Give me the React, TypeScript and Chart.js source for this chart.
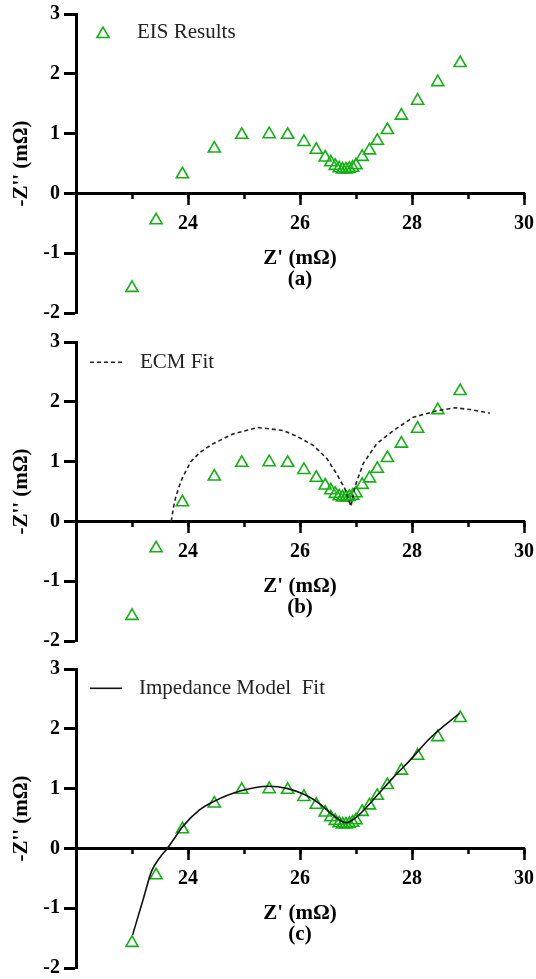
import React, { useEffect, useRef } from 'react';
import { Chart, registerables } from 'chart.js';

Chart.register(...registerables);

// ---------- data ----------
const eisZre = [23.00, 23.43, 23.90, 24.47, 24.96, 25.45, 25.78, 26.07, 26.29, 26.45, 26.55, 26.63, 26.70, 26.76, 26.82, 26.88, 26.94, 27.00, 27.11, 27.24, 27.38, 27.56, 27.81, 28.10, 28.46, 28.86];
const eisZim = [-1.58, -0.45, 0.32, 0.75, 0.98, 0.99, 0.98, 0.86, 0.73, 0.60, 0.52, 0.46, 0.42, 0.40, 0.40, 0.41, 0.43, 0.47, 0.61, 0.72, 0.88, 1.06, 1.30, 1.55, 1.86, 2.18];

const ecmZre = [23.70, 23.74, 23.78, 23.84, 23.90, 24.05, 24.22, 24.45, 24.80, 25.25, 25.70, 25.95, 26.24, 26.48, 26.65, 26.80, 26.91, 26.98, 27.13, 27.37, 27.67, 28.02, 28.44, 28.77, 29.04, 29.39];
const ecmZim = [0.00, 0.23, 0.40, 0.58, 0.73, 1.00, 1.16, 1.30, 1.46, 1.57, 1.52, 1.42, 1.27, 1.05, 0.80, 0.55, 0.25, 0.58, 0.97, 1.30, 1.52, 1.74, 1.85, 1.90, 1.87, 1.81];

const fitZre = [23.01, 23.20, 23.35, 23.50, 23.63, 23.78, 23.90, 24.20, 24.47, 24.93, 25.44, 25.78, 26.08, 26.33, 26.57, 26.75, 26.82, 26.99, 27.18, 27.42, 27.66, 27.97, 28.33, 28.85];
const fitZim = [-1.45, -0.85, -0.38, -0.15, 0.00, 0.20, 0.36, 0.64, 0.79, 0.96, 1.04, 1.00, 0.90, 0.76, 0.57, 0.45, 0.43, 0.51, 0.68, 0.93, 1.18, 1.48, 1.85, 2.26];

const xTickLabels = [24, 26, 28, 30];
const yTickLabels = [-2, -1, 0, 1, 2, 3];
const panelLabels = ['(a)', '(b)', '(c)'];
const legendTexts = ['EIS Results', 'ECM Fit', 'Impedance Model  Fit'];
const xTitle = "Z' (mΩ)";
const yTitle = "-Z'' (mΩ)";

// ---------- styles ----------
const SERIF = '"Liberation Serif", "Times New Roman", serif';
const GREEN = '#14B014';
const W = 536;
const H = 324;
const TOPS = [0, 328, 655];

const toPts = (xs: number[], ys: number[]) => xs.map((x, i) => ({ x, y: ys[i] }));

const legendPlugin = {
  id: 'panelLegend',
  afterDatasetsDraw(chart: any, _args: any, opts: any) {
    if (!opts || !opts.text) return;
    const { ctx, chartArea } = chart;
    const L = chartArea.left;
    const cy = chartArea.top + opts.dy;
    ctx.save();
    if (opts.kind === 'triangle') {
      const r = 7;
      const cx = L + opts.markerX;
      const ty = cy + r / 4;
      ctx.beginPath();
      let rad = 0;
      ctx.moveTo(cx + Math.sin(rad) * r, ty - Math.cos(rad) * r);
      rad += (2 * Math.PI) / 3;
      ctx.lineTo(cx + Math.sin(rad) * r, ty - Math.cos(rad) * r);
      rad += (2 * Math.PI) / 3;
      ctx.lineTo(cx + Math.sin(rad) * r, ty - Math.cos(rad) * r);
      ctx.closePath();
      ctx.lineWidth = 1.6;
      ctx.strokeStyle = GREEN;
      ctx.stroke();
    } else {
      ctx.beginPath();
      ctx.setLineDash(opts.dash || []);
      ctx.lineWidth = 1.6;
      ctx.strokeStyle = opts.kind === 'dash' ? '#222' : '#111';
      ctx.moveTo(L + opts.x1, cy);
      ctx.lineTo(L + opts.x2, cy);
      ctx.stroke();
      ctx.setLineDash([]);
    }
    ctx.font = `21px ${SERIF}`;
    ctx.fillStyle = '#222';
    ctx.textAlign = 'left';
    ctx.textBaseline = 'middle';
    ctx.fillText(opts.text, L + opts.textX, cy);
    ctx.restore();
  },
};

function buildConfig(idx: number): any {
  const datasets: any[] = [];
  if (idx === 1) {
    datasets.push({
      label: legendTexts[1],
      data: toPts(ecmZre, ecmZim),
      showLine: true,
      borderColor: '#222',
      borderWidth: 1.6,
      borderDash: [4, 3],
      pointRadius: 0,
      tension: 0,
      fill: false,
    });
  }
  if (idx === 2) {
    datasets.push({
      label: legendTexts[2],
      data: toPts(fitZre, fitZim),
      showLine: true,
      borderColor: '#111',
      borderWidth: 1.6,
      pointRadius: 0,
      cubicInterpolationMode: 'monotone',
      fill: false,
    });
  }
  datasets.push({
    label: legendTexts[0],
    data: toPts(eisZre, eisZim),
    showLine: false,
    pointStyle: 'triangle',
    pointRadius: 7,
    pointHoverRadius: 7,
    pointBorderWidth: 1.6,
    pointBorderColor: GREEN,
    pointBackgroundColor: 'rgba(0,0,0,0)',
    borderColor: GREEN,
    backgroundColor: 'rgba(0,0,0,0)',
  });

  const legendOpts =
    idx === 0
      ? { kind: 'triangle', text: legendTexts[0], dy: 18.3, markerX: 27, textX: 61 }
      : idx === 1
      ? { kind: 'dash', dash: [4, 3], text: legendTexts[1], dy: 20.3, x1: 14, x2: 46, textX: 64 }
      : { kind: 'solid', text: legendTexts[2], dy: 19.3, x1: 14, x2: 46, textX: 63 };

  const tickFont = { family: SERIF, size: 20, weight: 'bold' as const };
  const titleFont = { family: SERIF, size: 21, weight: 'bold' as const };

  return {
    type: 'scatter',
    data: { datasets },
    options: {
      responsive: false,
      animation: false,
      devicePixelRatio: 1,
      events: [],
      layout: { padding: { top: 14, right: 12, bottom: 11, left: 0 } },
      plugins: {
        legend: { display: false },
        tooltip: { enabled: false },
        panelLegend: legendOpts,
      },
      scales: {
        x: {
          type: 'linear',
          position: { y: 0 },
          min: 22,
          max: 30,
          ticks: {
            stepSize: 2,
            autoSkip: false,
            maxRotation: 0,
            padding: 8,
            color: '#000',
            font: tickFont,
            callback: (v: any) => (xTickLabels.includes(Number(v)) ? String(v) : ''),
          },
          grid: {
            display: true,
            drawOnChartArea: false,
            drawTicks: true,
            tickLength: 10,
            tickWidth: 2.5,
            tickColor: '#000',
          },
          border: { display: true, color: '#000', width: 3 },
          title: {
            display: true,
            text: [xTitle, panelLabels[idx]],
            color: '#000',
            font: { ...titleFont, lineHeight: 1 },
            padding: { top: 0, bottom: -86 },
          },
          afterFit: (s: any) => {
            s.height = 11;
            s.paddingLeft = 0;
            s.paddingRight = 0;
          },
        },
        xMinor: {
          type: 'linear',
          axis: 'x',
          position: { y: 0 },
          min: 22,
          max: 30,
          ticks: { stepSize: 1, display: false },
          grid: {
            display: true,
            drawOnChartArea: false,
            drawTicks: true,
            tickLength: 6,
            tickWidth: 2.5,
            tickColor: '#000',
          },
          border: { display: false },
          afterFit: (s: any) => {
            s.height = 0;
            s.paddingLeft = 0;
            s.paddingRight = 0;
          },
        },
        y: {
          type: 'linear',
          position: 'left',
          min: -2,
          max: 3,
          afterBuildTicks: (s: any) => {
            s.ticks = yTickLabels.map((v) => ({ value: v }));
          },
          ticks: { padding: 4, color: '#000', font: tickFont },
          grid: {
            display: true,
            drawOnChartArea: false,
            drawTicks: true,
            tickLength: 12,
            tickWidth: 3,
            tickColor: '#000',
          },
          border: { display: true, color: '#000', width: 3 },
          title: {
            display: true,
            text: yTitle,
            color: '#000',
            font: { ...titleFont, lineHeight: 1.2 },
            padding: { top: 9.4, bottom: 0 },
          },
          afterFit: (s: any) => {
            s.width = 76;
            s.paddingTop = 0;
            s.paddingBottom = 0;
          },
        },
      },
    },
    plugins: [legendPlugin],
  };
}

export default function App() {
  const r0 = useRef<HTMLCanvasElement>(null);
  const r1 = useRef<HTMLCanvasElement>(null);
  const r2 = useRef<HTMLCanvasElement>(null);

  useEffect(() => {
    const refs = [r0, r1, r2];
    const charts = refs.map((r, i) => new Chart(r.current as HTMLCanvasElement, buildConfig(i)));
    return () => charts.forEach((c) => c.destroy());
  }, []);

  const refs = [r0, r1, r2];
  return (
    <div style={{ position: 'absolute', left: 0, top: 0, width: W, height: 979, background: '#fff' }}>
      {refs.map((r, i) => (
        <canvas
          key={i}
          ref={r}
          width={W}
          height={H}
          style={{ position: 'absolute', left: 0, top: TOPS[i], width: W, height: H, display: 'block' }}
        />
      ))}
    </div>
  );
}
